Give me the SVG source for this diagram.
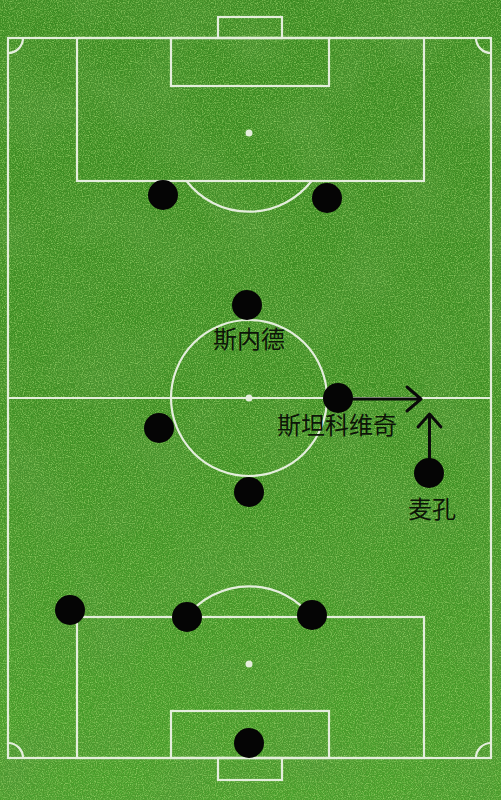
<svg xmlns="http://www.w3.org/2000/svg" width="501" height="800" viewBox="0 0 501 800">
<defs>
<style>
.ln{fill:none;stroke:#e4eedc;stroke-width:2.2;}
.pl{fill:#050505;}
.lbl{font-family:"Noto Sans CJK SC","Noto Sans CJK TC",sans-serif;font-size:24px;fill:#0c1408;text-anchor:middle;}
.arr{fill:none;stroke:#0a0a0a;stroke-width:3;stroke-linecap:round;stroke-linejoin:round;}
</style>
<linearGradient id="g" x1="0" y1="0" x2="0" y2="1">
<stop offset="0" stop-color="#378a1f"/>
<stop offset="0.5" stop-color="#3b8f22"/>
<stop offset="1" stop-color="#47a02a"/>
</linearGradient>
<filter id="tex" x="0" y="0" width="100%" height="100%">
<feTurbulence type="fractalNoise" baseFrequency="0.9" numOctaves="2" seed="4" result="n"/>
<feColorMatrix in="n" type="matrix" values="0 0 0 0 0.1  0 0 0 0 0.3  0 0 0 0 0.03  1.6 0 0 0 -0.6"/>
</filter>
<filter id="tex2" x="0" y="0" width="100%" height="100%">
<feTurbulence type="fractalNoise" baseFrequency="0.85" numOctaves="2" seed="9" result="n"/>
<feColorMatrix in="n" type="matrix" values="0 0 0 0 0.42  0 0 0 0 0.78  0 0 0 0 0.2  0 1.6 0 0 -0.7"/>
</filter>
<filter id="patch" x="0" y="0" width="100%" height="100%">
<feTurbulence type="fractalNoise" baseFrequency="0.015" numOctaves="2" seed="2" result="n"/>
<feColorMatrix in="n" type="matrix" values="0 0 0 0 0.08  0 0 0 0 0.3  0 0 0 0 0.04  1.3 0 0 0 -0.5"/>
</filter>
</defs>
<rect width="501" height="800" fill="url(#g)"/>
<rect width="501" height="800" filter="url(#patch)"/>
<rect width="501" height="800" filter="url(#tex)"/>
<rect width="501" height="800" filter="url(#tex2)"/>

<g id="pitch">
<rect class="ln" x="8" y="38" width="483" height="720"/>
<line class="ln" x1="8" y1="398" x2="491" y2="398"/>
<circle class="ln" cx="249" cy="398" r="78"/>
<circle cx="249" cy="398" r="3.5" fill="#e4eedc"/>
<rect class="ln" x="218" y="17" width="64" height="21"/>
<rect class="ln" x="171" y="38" width="158" height="48"/>
<rect class="ln" x="77" y="38" width="347" height="143"/>
<circle cx="249" cy="133" r="3.5" fill="#e4eedc"/>
<path class="ln" d="M186.5 181 A79 79 0 0 0 311.5 181"/>
<rect class="ln" x="218" y="758" width="64" height="22"/>
<rect class="ln" x="171" y="711" width="158" height="47"/>
<rect class="ln" x="77" y="617" width="347" height="141"/>
<circle cx="249" cy="664" r="3.5" fill="#e4eedc"/>
<path class="ln" d="M186.5 617 A79 79 0 0 1 311.5 617"/>
<path class="ln" d="M8 53 A15 15 0 0 0 23 38"/>
<path class="ln" d="M476 38 A15 15 0 0 0 491 53"/>
<path class="ln" d="M8 743 A15 15 0 0 1 23 758"/>
<path class="ln" d="M476 758 A15 15 0 0 1 491 743"/>
</g>

<g id="connectors">
<path class="arr" d="M353 399 L420 399 M407 387 L421 399 L407 411"/>
<path class="arr" d="M429.5 459 L429.5 415 M418 427 L429.5 414 L441 427"/>
</g>

<g id="p1"><circle class="pl" cx="163" cy="195" r="15"/></g>
<g id="p2"><circle class="pl" cx="327" cy="198" r="15"/></g>
<g id="sneijder"><circle class="pl" cx="247" cy="305" r="15"/><text class="lbl" x="249" y="348">斯内德</text></g>
<g id="stankovic"><circle class="pl" cx="338" cy="398" r="15"/><text class="lbl" x="337" y="434">斯坦科维奇</text></g>
<g id="p5"><circle class="pl" cx="159" cy="428" r="15"/></g>
<g id="p6"><circle class="pl" cx="249" cy="492" r="15"/></g>
<g id="maicon"><circle class="pl" cx="429" cy="473" r="15"/><text class="lbl" x="432" y="518">麦孔</text></g>
<g id="p8"><circle class="pl" cx="70" cy="610" r="15"/></g>
<g id="p9"><circle class="pl" cx="187" cy="617" r="15"/></g>
<g id="p10"><circle class="pl" cx="312" cy="615" r="15"/></g>
<g id="gk"><circle class="pl" cx="249" cy="743" r="15"/></g>
</svg>
